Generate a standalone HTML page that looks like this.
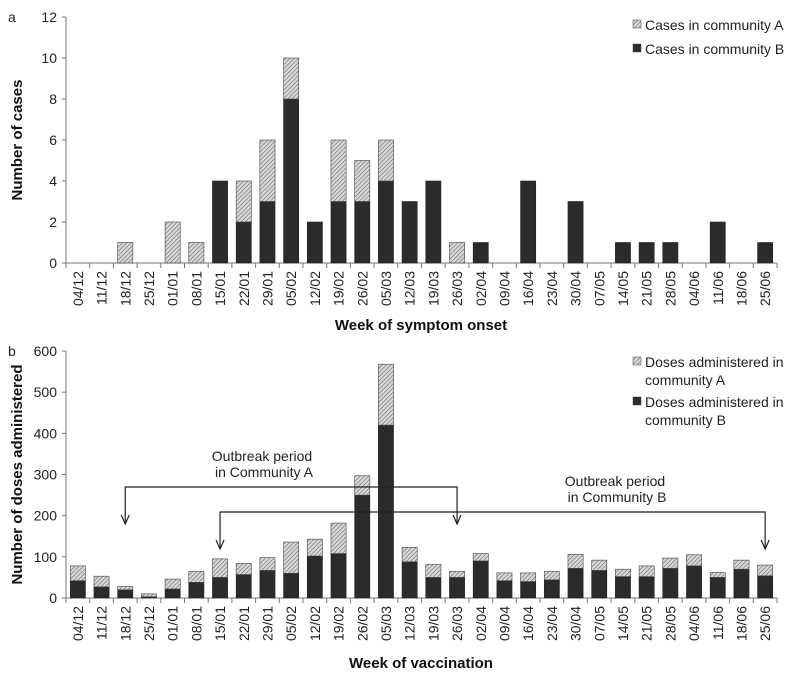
<!DOCTYPE html>
<html><head><meta charset="utf-8"><style>
body{margin:0;background:#fff;}
svg{display:block;font-family:"Liberation Sans Narrow","Liberation Sans",sans-serif;}
</style></head><body>
<svg id="c" width="800" height="681" viewBox="0 0 800 681">
<defs>
<pattern id="hatch" width="3" height="3" patternUnits="userSpaceOnUse" patternTransform="rotate(45)">
<rect width="3" height="3" fill="#d8d8d8"/><line x1="0" y1="0" x2="0" y2="3" stroke="#6a6a6a" stroke-width="1.2"/>
</pattern>
</defs>
</svg>
<script>
const weeks = ["04/12","11/12","18/12","25/12","01/01","08/01","15/01","22/01","29/01","05/02","12/02","19/02","26/02","05/03","12/03","19/03","26/03","02/04","09/04","16/04","23/04","30/04","07/05","14/05","21/05","28/05","04/06","11/06","18/06","25/06"];
const casesB = [0,0,0,0,0,0,4,2,3,8,2,3,3,4,3,4,0,1,0,4,0,3,0,1,1,1,0,2,0,1];
const casesA = [0,0,1,0,2,1,0,2,3,2,0,3,2,2,0,0,1,0,0,0,0,0,0,0,0,0,0,0,0,0];
const casesTicks = [0,2,4,6,8,10,12];
const dosesB = [42,27,20,3,22,38,50,57,67,60,102,108,250,420,88,50,50,90,42,40,44,72,67,52,52,72,78,50,70,54];
const dosesA = [36,26,8,7,24,27,45,27,31,76,41,74,47,148,35,32,15,18,19,21,21,34,25,18,26,25,27,12,22,26];
const dosesTicks = [0,100,200,300,400,500,600];

const svg = document.getElementById('c');
const NS = 'http://www.w3.org/2000/svg';
function mk(tag, attrs, parent){const e=document.createElementNS(NS,tag);for(const k in attrs)e.setAttribute(k,attrs[k]);(parent||svg).appendChild(e);return e;}

function chart(cfg){
  const g = mk('g',{});
  
  
  const x0=66,x1=777,n=weeks.length,step=(x1-x0)/n,bw=step*0.64;
  const y=v=>cfg.yb-(v/cfg.max)*(cfg.yb-cfg.yt);
  const xc=i=>x0+step*(i+0.5);
  mk('line',{x1:x0,y1:cfg.yt,x2:x0,y2:cfg.yb,stroke:'#777','stroke-width':1},g);
  mk('line',{x1:x0,y1:cfg.yb,x2:x1,y2:cfg.yb,stroke:'#777','stroke-width':1},g);
  cfg.ticks.forEach(t=>{
    mk('line',{x1:x0-4,y1:y(t),x2:x0,y2:y(t),stroke:'#777'},g);
    const tx=mk('text',{x:x0-9,y:y(t)+5,'text-anchor':'end','font-size':14,fill:'#222'},g);
    tx.textContent=t;
    
    
  });
  for(let i=0;i<=n;i++) mk('line',{x1:x0+step*i,y1:cfg.yb,x2:x0+step*i,y2:cfg.yb+5,stroke:'#777'},g);
  weeks.forEach((w,i)=>{
    const b=cfg.B[i],a=cfg.A[i];
    if(b>0){const r=mk('rect',{x:xc(i)-bw/2,y:y(b),width:bw,height:y(0)-y(b),fill:'#2b2b2b',stroke:'#222','stroke-width':0.6},g);
      
      }
    if(a>0){const r=mk('rect',{x:xc(i)-bw/2,y:y(a+b),width:bw,height:y(b)-y(a+b),fill:'url(#hatch)',stroke:'#444','stroke-width':0.6},g);
      
      }
    const tx=mk('text',{x:0,y:0,'text-anchor':'end','font-size':14,fill:'#222',transform:`translate(${xc(i)+5},${cfg.yb+8}) rotate(-90)`},g);
    tx.textContent=w;
    
    
  });
  const xt=mk('text',{x:421,y:cfg.xtY,'text-anchor':'middle','font-size':15,'font-weight':'bold',fill:'#111','font-family':'Liberation Sans, sans-serif'},g);
  xt.textContent=cfg.xtitle;
  
  
  const yt=mk('text',{x:0,y:0,'text-anchor':'middle','font-size':15,'font-weight':'bold',fill:'#111','font-family':'Liberation Sans, sans-serif',transform:`translate(22,${(cfg.yt+cfg.yb)/2}) rotate(-90)`},g);
  yt.textContent=cfg.ytitle;
  
  
  const pl=mk('text',{x:8,y:cfg.yt+5,'font-size':14,fill:'#222'},g);
  pl.textContent=cfg.panel;
  
  
  cfg.legend.forEach((L,k)=>{
    mk('rect',{x:633,y:L.y-5,width:8,height:8,fill:k==0?'url(#hatch)':'#2b2b2b',stroke:'#444','stroke-width':0.5},g);
    L.lines.forEach((s,j)=>{
      const t=mk('text',{x:645,y:L.y+5+j*18,'font-size':14,fill:'#222'},g);
      t.textContent=s;
      
      
    });
  });
  return {xc,y};
}

chart({name:'cases-chart',yt:17,yb:263,max:12,ticks:casesTicks,A:casesA,B:casesB,xtY:330,xtitle:'Week of symptom onset',ytitle:'Number of cases',panel:'a',
  legend:[{y:25,lines:['Cases in community A']},{y:49,lines:['Cases in community B']}]});
const b=chart({name:'doses-chart',yt:351,yb:598,max:600,ticks:dosesTicks,A:dosesA,B:dosesB,xtY:668,xtitle:'Week  of vaccination',ytitle:'Number of doses administered',panel:'b',
  legend:[{y:362,lines:['Doses administered in','community A']},{y:402,lines:['Doses administered in','community B']}]});

function bracket(i1,i2,ly,ay,name){
  const g=mk('g',{stroke:'#222','stroke-width':1.2,fill:'none'});
  
  
  const xa=b.xc(i1),xb=b.xc(i2);
  mk('path',{d:`M${xa},${ay} V${ly} H${xb} V${ay}`},g);
  [xa,xb].forEach(x=>mk('path',{d:`M${x-4},${ay-9} L${x},${ay} L${x+4},${ay-9}`},g));
}
bracket(2,16,487,524,'outbreak-bracket-a');
bracket(6,29,512,549,'outbreak-bracket-b');
[['Outbreak period',262,461],['in Community A',264,477],['Outbreak period',615,486],['in Community B',617,502]].forEach(([s,x,yy])=>{
  const t=mk('text',{x:x,y:yy,'text-anchor':'middle','font-size':14,fill:'#222'});
  t.textContent=s;
  
  
});
</script>
</body></html>
